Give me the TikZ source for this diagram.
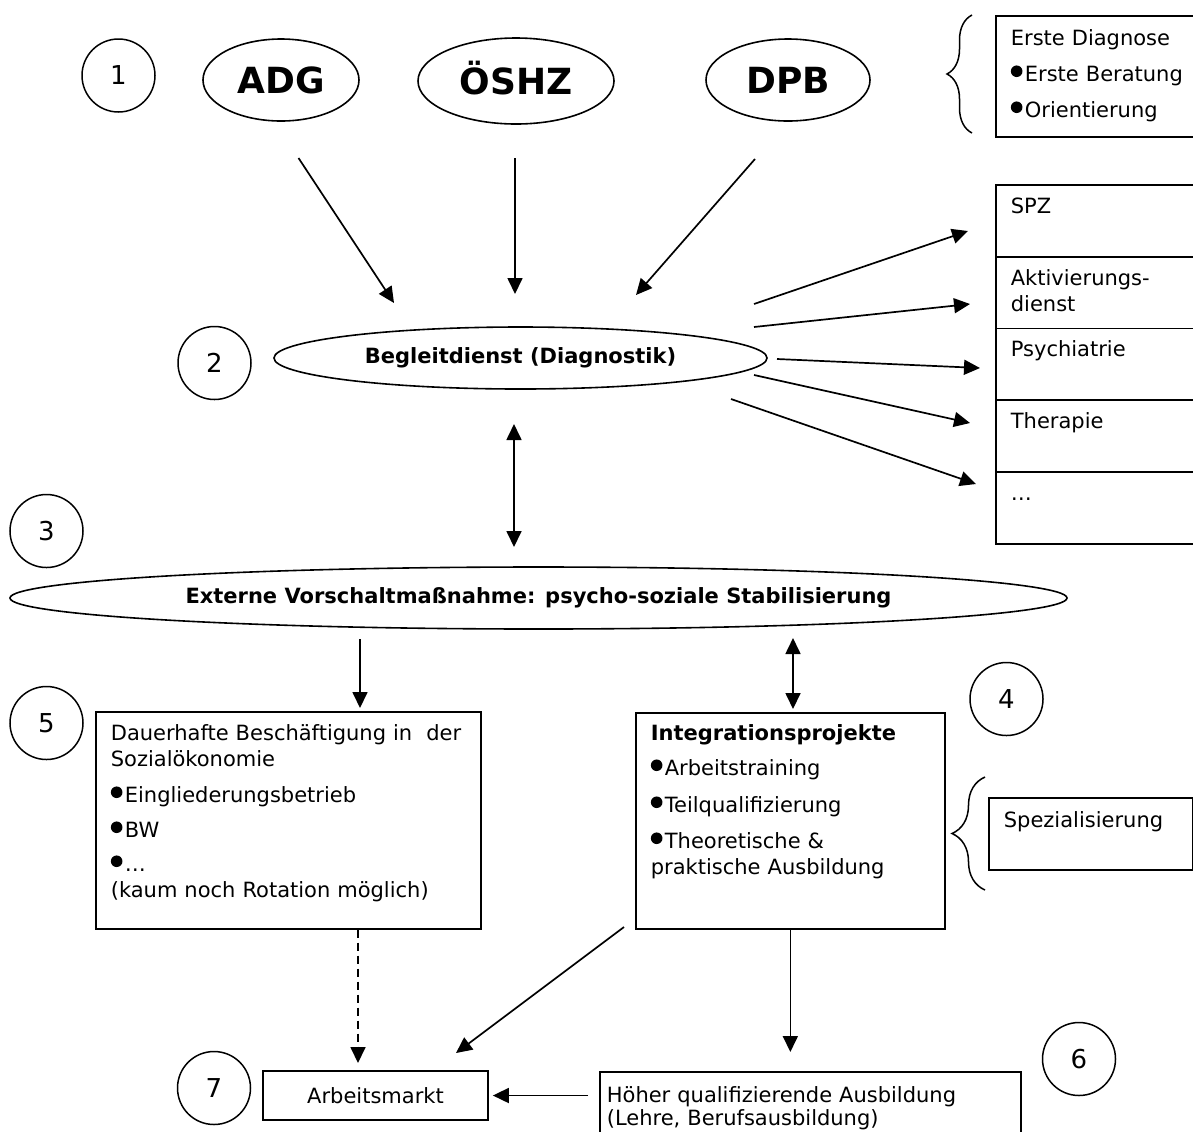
\documentclass[tikz,border=0pt]{standalone}
\usepackage{fontspec}
\setmainfont{DejaVu Sans}
\usetikzlibrary{shapes.geometric,arrows.meta,decorations.pathreplacing}

\newcommand{\bul}{\tikz[baseline=0pt]\fill (3pt,5.3pt) circle[radius=2.9pt];\hspace{1.2pt}}

\tikzset{
  num/.style={draw, circle, minimum size=36.5pt, inner sep=0pt, line width=0.75pt, font=\fontsize{13}{15}\selectfont},
  org/.style={draw, ellipse, inner sep=1pt, line width=0.8pt, text height=13.1pt, text depth=0pt, font=\fontsize{18}{20}\selectfont\bfseries},
  oval/.style={draw, ellipse, inner sep=1pt, line width=0.8pt, minimum height=31pt, font=\fontsize{10.5}{13}\selectfont\bfseries},
  box/.style={draw, rectangle, anchor=north west, align=left, inner xsep=7.5pt, inner ysep=0pt, line width=0.85pt, font=\fontsize{10.5}{13}\selectfont},
  plainbox/.style={draw, rectangle, line width=0.85pt, font=\fontsize{10.5}{13}\selectfont},
  arr/.style={line width=0.85pt, -{Triangle[length=8pt,width=7.5pt]}},
  twoway/.style={line width=0.85pt, {Triangle[length=8pt,width=7.5pt]}-{Triangle[length=8pt,width=7.5pt]}},
  brc/.style={decorate, decoration={brace, amplitude=#1}, line width=0.75pt}
}

\begin{document}
\begin{tikzpicture}[x=0.5pt,y=-0.5pt]
    \useasboundingbox (0,0) rectangle (1193,1131);
    % step numbers
    \foreach \k/\px/\py in {1/118.5/75.5, 2/214.5/363, 3/46.5/531, 4/1006.5/699, 5/46.5/723, 6/1079/1059, 7/214/1088}
        \node[num] (n\k) at (\px,\py) {\k};
    % services on top
    \node[org, minimum width=78pt, minimum height=41pt] (adg) at (281,80) {ADG};
    \node[org, minimum width=98pt, minimum height=43pt] (oeshz) at (516,81) {ÖSHZ};
    \node[org, minimum width=82pt, minimum height=41pt] (dpb) at (788,80) {DPB};
    \node[box, text width=100pt, text height=15pt, text depth=45.5pt] (first) at (995,15)
        {Erste Diagnose\\[5pt]\bul Erste Beratung\\[5pt]\bul Orientierung};
    \draw[brc=12.5pt] (972,133) -- (972,15);
    % Begleitdienst and its partners
    \node[oval, minimum width=246.5pt] (begl) at (520.5,358) {Begleitdienst (Diagnostik)};
    \foreach \lbl [count=\k from 0] in {SPZ, {Aktivierungs-\\dienst}, Psychiatrie, Therapie, \ldots}
        \node[box, text width=100pt, text height=14.25pt, text depth=21.65pt] (cell\k) at (995,{184+71.8*\k}) {\lbl};
    \node[oval, minimum width=528.5pt] (extern) at (538.5,598) {Externe Vorschaltmaßnahme: psycho-soziale Stabilisierung};
    % lower boxes
    \node[box, text width=177.5pt, text height=14.5pt, text depth=94pt] (dauer) at (95,711)
        {\mbox{Dauerhafte Beschäftigung in\ \ der}\\Sozialökonomie\\[5pt]\bul Eingliederungsbetrieb\\[4.5pt]\bul BW\\[4pt]\bul\ldots\\(kaum noch Rotation möglich)};
    \node[box, text width=139.5pt, text height=14pt, text depth=94pt] (integ) at (635,712)
        {\textbf{Integrationsprojekte}\\[4.5pt]\bul Arbeitstraining\\[5.5pt]\bul Teilqualifizierung\\[5pt]\bul Theoretische \&\\praktische Ausbildung};
    \node[box, text width=87pt, text height=15pt, text depth=21pt] (spez) at (988,797) {Spezialisierung};
    \draw[brc=16.5pt] (985,890) -- (985,777);
    \node[plainbox, minimum width=112.5pt, minimum height=24.5pt] (arbeit) at (375.5,1095.5) {Arbeitsmarkt};
    \node[box, inner xsep=3.5pt, text width=203.5pt, text height=15.5pt, text depth=30pt] (hoeher) at (599,1071)
        {Höher qualifizierende Ausbildung\\[-1.5pt](Lehre, Berufsausbildung)};
    % free ends of the connectors
    \coordinate (adg-o) at (298.5,158);  \coordinate (begl-a) at (394,303);
    \coordinate (oeshz-o) at (515,158);  \coordinate (begl-b) at (515,294);
    \coordinate (dpb-o) at (755,159);    \coordinate (begl-c) at (636,295);
    \coordinate (begl-d) at (514,424);   \coordinate (ext-u) at (514,547);
    \coordinate (ext-d) at (360,639);    \coordinate (ext-i) at (793,638);
    \coordinate (arb-d) at (358,1063);
    \coordinate (integ-l) at (624,927);  \coordinate (arb-r) at (456,1053);
    \draw[arr] (adg-o) -- (begl-a);
    \draw[arr] (oeshz-o) -- (begl-b);
    \draw[arr] (dpb-o) -- (begl-c);
    \foreach \sx/\sy/\ex/\ey [count=\k] in {754/304/968/231, 754/327/970/304, 777/359/980/368, 754/375/970/423, 731/399/976/484}{
        \coordinate (fan-s\k) at (\sx,\sy);
        \coordinate (fan-e\k) at (\ex,\ey);
        \draw[arr] (fan-s\k) -- (fan-e\k);
    }
    \draw[twoway] (begl-d) -- (ext-u);
    \draw[arr, shorten >=1.5pt] (ext-d) -- (ext-d |- dauer.north);
    \draw[twoway, shorten >=1.5pt] (ext-i) -- (ext-i |- integ.north);
    \draw[arr, dash pattern=on 4pt off 2.5pt] (arb-d |- dauer.south) -- (arb-d);
    \draw[arr] (integ-l) -- (arb-r);
    \draw[arr, shorten >=9.5pt] (integ.south) -- (integ.south |- hoeher.north);
    \draw[arr, shorten <=5.5pt, shorten >=2pt] (arbeit.east -| hoeher.west) -- (arbeit.east);
\end{tikzpicture}
\end{document}
